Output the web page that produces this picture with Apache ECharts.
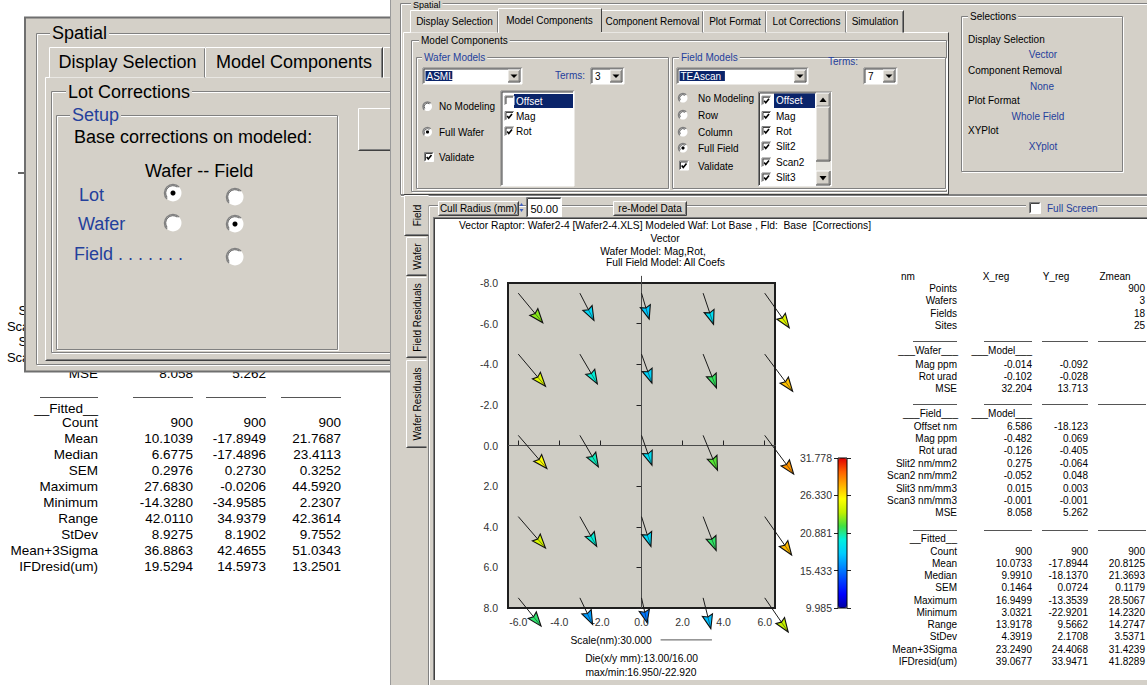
<!DOCTYPE html>
<html><head><meta charset="utf-8">
<script src="https://cdn.jsdelivr.net/npm/echarts@6/dist/echarts.min.js"></script>
<style>html,body{margin:0;padding:0;background:#fff}#c{width:1147px;height:685px}</style>
</head><body><div id="c"></div>
<script>
// ---------------- DATA ----------------
const siteX = [-6, -3, 0, 3, 6];
const siteY = [-7.5, -4.5, -0.5, 3.5, 7.5];
const vecXnm = [
  [14.3, 8.2, 4.5, 6.1, 14.3],
  [15.9, 10.2, 6.1, 7.8, 16.3],
  [16.7, 10.8, 6.1, 8.4, 16.9],
  [15.9, 9.8, 5.5, 7.6, 15.7],
  [13.3, 7.4, 3.3, 4.5, 13.7]
];
const vecYnm = [
  [-17.5, -16.1, -15.3, -18.4, -20.4],
  [-19.0, -17.6, -17.1, -20.0, -22.0],
  [-19.6, -18.6, -17.6, -20.6, -22.9],
  [-18.6, -17.6, -17.6, -20.0, -22.7],
  [-16.7, -15.7, -14.7, -18.2, -20.2]
];
const zmean = [
  [23.0, 18.5, 17.8, 18.8, 24.9],
  [24.8, 20.0, 18.3, 21.5, 27.4],
  [25.7, 20.3, 18.8, 22.2, 28.5],
  [24.5, 20.0, 18.5, 21.4, 27.6],
  [21.3, 16.5, 15.5, 17.5, 24.0]
];
const xTicks = [-6, -4, -2, 0, 2, 4, 6];
const colorTicks = [9.985, 15.433, 20.881, 26.330, 31.778];
const scaleNm = 30;
const NM_PER_MM = 12;

const rightHeader = ['nm', 'X_reg', 'Y_reg', 'Zmean'];
const countLabels = ['Points', 'Wafers', 'Fields', 'Sites'];
const countValues = ['900', '3', '18', '25'];
const waferLabels = ['Mag ppm', 'Rot urad', 'MSE'];
const waferX = ['-0.014', '-0.102', '32.204'];
const waferY = ['-0.092', '-0.028', '13.713'];
const fieldLabels = ['Offset nm', 'Mag ppm', 'Rot urad', 'Slit2 nm/mm2', 'Scan2 nm/mm2', 'Slit3 nm/mm3', 'Scan3 nm/mm3', 'MSE'];
const fieldX = ['6.586', '-0.482', '-0.126', '0.275', '-0.052', '0.015', '-0.001', '8.058'];
const fieldY = ['-18.123', '0.069', '-0.405', '-0.064', '0.048', '0.003', '-0.001', '5.262'];
const fittedLabels = ['Count', 'Mean', 'Median', 'SEM', 'Maximum', 'Minimum', 'Range', 'StDev', 'Mean+3Sigma', 'IFDresid(um)'];
const fittedX = ['900', '10.0733', '9.9910', '0.1464', '16.9499', '3.0321', '13.9178', '4.3919', '23.2490', '39.0677'];
const fittedY = ['900', '-17.8944', '-18.1370', '0.0724', '-13.3539', '-22.9201', '9.5662', '2.1708', '24.4068', '33.9471'];
const fittedZ = ['900', '20.8125', '21.3693', '0.1179', '28.5067', '14.2320', '14.2747', '3.5371', '31.4239', '41.8289'];
const leftFittedX = ['900', '10.1039', '6.6775', '0.2976', '27.6830', '-14.3280', '42.0110', '8.9275', '36.8863', '19.5294'];
const leftFittedY = ['900', '-17.8949', '-17.4896', '0.2730', '-0.0206', '-34.9585', '34.9379', '8.1902', '42.4655', '14.5973'];
const leftFittedZ = ['900', '21.7687', '23.4113', '0.3252', '44.5920', '2.2307', '42.3614', '9.7552', '51.0343', '13.2501'];

// ---------------- STYLE HELPERS ----------------
const FF = '"Liberation Sans", Arial, Helvetica, sans-serif';
const BG = '#d4d0c8', SH = '#808080', DK = '#404040', HL = '#ffffff', BLUE = '#24409c', NAVY = '#0a246a';
const COLORS = ['#0000a0','#0000ff','#0040ff','#0088ff','#00ccff','#00f0e0','#40e040','#c0f000','#ffff00','#ffb000','#ff6000','#e00000'];
const G = [];
function T(x, y, s, o) {
  o = o || {};
  const st = {text: s, font: (o.size || 10) + 'px ' + FF, fill: o.color || '#000',
    textAlign: o.align || 'left', textVerticalAlign: 'middle', align: o.align || 'left', verticalAlign: 'middle'};
  if (o.bg) { st.backgroundColor = o.bg; st.padding = [0, 2]; }
  G.push({type: 'text', x: x, y: y, rotation: o.rot || 0, z: o.z || -1, silent: true, style: st});
}
function L(x1, y1, x2, y2, c, w, z) {
  G.push({type: 'line', z: z || -1, silent: true, shape: {x1, y1, x2, y2}, style: {stroke: c, lineWidth: w || 1}});
}
function R(x, y, w, h, fill, stroke, lw, z) {
  G.push({type: 'rect', z: z || -1, silent: true, shape: {x, y, width: w, height: h},
    style: {fill: fill || 'none', stroke: stroke || 'none', lineWidth: lw || 1}});
}
function P(points, fill, z) { G.push({type: 'polygon', z: z || -1, silent: true, shape: {points}, style: {fill}}); }
function frame(x, y, w, h) { R(x + 1, y + 1, w, h, null, HL, 1); R(x, y, w, h, null, SH, 1); }
function raised(x, y, w, h) {
  R(x, y, w, h, BG);
  L(x, y, x + w, y, HL); L(x, y, x, y + h, HL);
  L(x + w, y, x + w, y + h, DK); L(x, y + h, x + w, y + h, DK);
  L(x + w - 1, y + 1, x + w - 1, y + h - 1, SH); L(x + 1, y + h - 1, x + w - 1, y + h - 1, SH);
}
function sunken(x, y, w, h, fill) {
  R(x, y, w, h, fill || '#fff');
  L(x, y, x + w, y, SH); L(x, y, x, y + h, SH);
  L(x + 1, y + 1, x + w - 1, y + 1, DK); L(x + 1, y + 1, x + 1, y + h - 1, DK);
  L(x + w, y, x + w, y + h, HL); L(x, y + h, x + w, y + h, HL);
}
function radio(cx, cy, r, sel) {
  G.push({type: 'circle', z: -1, silent: true, shape: {cx, cy, r}, style: {fill: '#fff'}});
  G.push({type: 'arc', z: -1, silent: true, shape: {cx, cy, r, startAngle: Math.PI * 0.75, endAngle: Math.PI * 1.75, clockwise: true}, style: {stroke: SH, lineWidth: 1.5, fill: 'none'}});
  G.push({type: 'arc', z: -1, silent: true, shape: {cx, cy, r: r - 1.2, startAngle: Math.PI * 0.8, endAngle: Math.PI * 1.7, clockwise: true}, style: {stroke: DK, lineWidth: 0.8, fill: 'none'}});
  if (sel) G.push({type: 'circle', z: -1, silent: true, shape: {cx, cy, r: Math.max(1.6, r * 0.3)}, style: {fill: '#000'}});
}
function check(x, y, s, on) {
  sunken(x, y, s, s, '#fff');
  if (on) G.push({type: 'polyline', z: -1, silent: true, shape: {points: [[x + 2.2, y + s * 0.5], [x + s * 0.42, y + s - 2.5], [x + s - 2, y + 2.5]]}, style: {stroke: '#000', lineWidth: 1.6, fill: 'none'}});
}
function combo(x, y, w, h, txt, hl) {
  sunken(x, y, w, h, '#fff');
  const bw = h - 4;
  raised(x + w - bw - 2, y + 2, bw, h - 4);
  const cx = x + w - 2 - bw / 2, cy = y + h / 2;
  P([[cx - 3.5, cy - 1.5], [cx + 3.5, cy - 1.5], [cx, cy + 2]], '#000');
  if (hl) {
    const tw = txt.length * 6.2 + 2;
    R(x + 2.5, y + 3, tw, h - 6, NAVY);
    T(x + 3.5, y + h / 2 + 0.5, txt, {color: '#fff'});
  } else T(x + 4, y + h / 2 + 0.5, txt);
}
function tab(x, y, w, h, label, size, ty) {
  R(x, y, w, h, BG);
  L(x, y + h, x, y, HL); L(x, y, x + w, y, HL);
  L(x + w, y, x + w, y + h, DK); L(x + w - 1, y + 1, x + w - 1, y + h, SH);
  if (label) T(x + w / 2, ty || (y + h / 2 + 1), label, {size: size, align: 'center'});
}
function vtab(x, y, w, h, label) {
  R(x, y, w, h, BG);
  L(x, y, x, y + h, HL); L(x, y, x + w, y, HL);
  L(x, y + h, x + w, y + h, DK); L(x + 1, y + h - 1, x + w, y + h - 1, SH);
  T(x + w / 2 + 1, y + h / 2, label, {rot: Math.PI / 2, align: 'center'});
}

// ---------------- LEFT WINDOW (hidden-behind text first) ----------------
const LS = 13.5;
T(98, 310, 'Slit2 nm/mm2', {size: 13, align: 'right'});
T(98, 326, 'Scan2 nm/mm2', {size: 13, align: 'right'});
T(98, 341, 'Slit3 nm/mm3', {size: 13, align: 'right'});
T(98, 357, 'Scan3 nm/mm3', {size: 13, align: 'right'});
T(98, 373.5, 'MSE', {size: LS, align: 'right'});
T(193, 373.5, '8.058', {size: LS, align: 'right'});
T(266, 373.5, '5.262', {size: LS, align: 'right'});
L(18, 173, 25, 173, '#333', 1.5);

R(25, 17.5, 375, 354, BG, '#6f6f6f', 2);
frame(36.5, 33.5, 400, 331);
T(50, 33, 'Spatial', {size: 18, bg: BG});
raised(45.5, 77.5, 400, 283);
tab(49.5, 47.5, 156, 30, 'Display Selection', 18, 62);
tab(205.5, 47.5, 177, 30, 'Model Components', 18, 62);
tab(383.5, 47.5, 60, 30, '', 18);
frame(51.5, 91.5, 400, 261);
T(66, 92, 'Lot Corrections', {size: 18, bg: BG});
frame(56.5, 115.5, 281, 234);
T(70, 115, 'Setup', {size: 18, color: BLUE, bg: BG});
raised(358.5, 108.5, 60, 42);
T(74, 137, 'Base corrections on modeled:', {size: 18});
T(145, 171, 'Wafer -- Field', {size: 18});
T(79, 195, 'Lot', {size: 18, color: BLUE});
T(78, 224, 'Wafer', {size: 18, color: BLUE});
T(74, 254, 'Field . . . . . . .', {size: 18, color: BLUE});
radio(173, 193, 8.5, true); radio(235, 197, 8.5, false);
radio(173, 223, 8.5, false); radio(235, 224, 8.5, true);
radio(235, 257, 8.5, false);

// left fitted table
[[40, 98], [133, 193], [206, 266], [281, 341]].forEach(s => L(s[0], 397.5, s[1], 397.5, '#555', 1));
T(98, 408.5, '__Fitted__', {size: LS, align: 'right'});
fittedLabels.forEach((lab, i) => {
  const y = 422.5 + i * 16.05;
  T(98, y, lab, {size: LS, align: 'right'});
  T(193, y, leftFittedX[i], {size: LS, align: 'right'});
  T(266, y, leftFittedY[i], {size: LS, align: 'right'});
  T(341, y, leftFittedZ[i], {size: LS, align: 'right'});
});

// ---------------- RIGHT WINDOW ----------------
R(390, 0, 757, 685, BG);
L(390.5, 0, 390.5, 685, '#9a9a9a');
frame(400.5, 3.5, 800, 191);
T(411, 5, 'Spatial', {size: 9, bg: BG});
// tab panel
L(403.5, 32.5, 948.5, 32.5, HL); L(403.5, 32.5, 403.5, 194.5, HL);
L(948.5, 32.5, 948.5, 194.5, DK); L(403.5, 194.5, 948.5, 194.5, DK);
tab(410.5, 10.5, 88, 22, 'Display Selection', 10, 21.5);
tab(601.5, 10.5, 102, 22, 'Component Removal', 10, 21.5);
tab(703.5, 10.5, 63, 22, 'Plot Format', 10, 21.5);
tab(766.5, 10.5, 80, 22, 'Lot Corrections', 10, 21.5);
tab(846.5, 10.5, 57, 22, 'Simulation', 10, 21.5);
R(498.5, 8.5, 103, 25, BG); L(498.5, 33, 498.5, 8.5, HL); L(498.5, 8.5, 601.5, 8.5, HL);
L(601.5, 8.5, 601.5, 32, DK); T(549.5, 20, 'Model Components', {align: 'center'});

frame(411.5, 40.5, 535, 151);
T(419, 40.5, 'Model Components', {bg: BG});
frame(416.5, 57.5, 252, 131);
T(422, 57.5, 'Wafer Models', {color: BLUE, bg: BG});
combo(423, 68, 99, 16, 'ASML', true);
T(555, 75, 'Terms:', {color: BLUE});
combo(591, 68, 33, 16, '3', false);
radio(427.5, 106.5, 4.5, false); T(439, 106.5, 'No Modeling');
radio(427.5, 132, 4.5, true); T(439, 132, 'Full Wafer');
check(424.5, 152.5, 9, true); T(439, 157, 'Validate');
sunken(501, 91, 73, 95, '#fff');
R(514, 94, 59, 14, NAVY);
check(505, 96, 9, false); T(516, 101, 'Offset', {color: '#fff'});
check(505, 111.5, 9, true); T(516, 116.5, 'Mag');
check(505, 127, 9, true); T(516, 131.5, 'Rot');

frame(672.5, 57.5, 273, 131);
T(679, 57.5, 'Field Models', {color: BLUE, bg: BG});
combo(677, 68, 131, 16, 'TEAscan', true);
T(828, 61.5, 'Terms:', {color: BLUE});
combo(864, 68, 33, 16, '7', false);
radio(683, 98, 4.5, false); T(698, 98, 'No Modeling');
radio(683, 115, 4.5, false); T(698, 115, 'Row');
radio(683, 132, 4.5, false); T(698, 132, 'Column');
radio(683, 148, 4.5, true); T(698, 148, 'Full Field');
check(679.5, 161, 9, true); T(698, 166, 'Validate');
sunken(758.5, 92, 73, 94, '#fff');
R(816, 93, 15, 92, '#e6e4de');
raised(816, 93, 14, 14); P([[819.5, 102], [826.5, 102], [823, 97.5]], '#000');
raised(816, 107, 14, 54);
raised(816, 171, 14, 14); P([[819.5, 176], [826.5, 176], [823, 180.5]], '#000');
R(774, 93.6, 41, 14.3, NAVY);
const fieldItems = ['Offset', 'Mag', 'Rot', 'Slit2', 'Scan2', 'Slit3'];
const fieldItemY = [100.7, 116, 131, 146.5, 162.5, 177.5];
fieldItems.forEach((s, i) => { check(762, fieldItemY[i] - 4.5, 9, true); T(776, fieldItemY[i], s, {color: i === 0 ? '#fff' : '#000'}); });

frame(961.5, 16.5, 161, 155);
T(968, 16.5, 'Selections', {bg: BG});
T(968, 39.5, 'Display Selection');
T(1043, 54.5, 'Vector', {align: 'center', color: BLUE});
T(968, 70, 'Component Removal');
T(1042, 86, 'None', {align: 'center', color: BLUE});
T(968, 100.5, 'Plot Format');
T(1038, 116.5, 'Whole Field', {align: 'center', color: BLUE});
T(968, 130.5, 'XYPlot');
T(1043, 146.5, 'XYplot', {align: 'center', color: BLUE});

L(401, 195.5, 1147, 195.5, SH); L(401, 196.5, 1147, 196.5, HL);

// plot group
L(428.5, 205.5, 1147, 205.5, SH); L(429.5, 206.5, 1147, 206.5, HL);
L(428.5, 205.5, 428.5, 685, SH); L(429.5, 206.5, 429.5, 685, HL);
raised(438.5, 201.5, 80, 14); T(478.5, 208.5, 'Cull Radius (mm)', {align: 'center'});
P([[519.5, 206], [523.5, 206], [521.5, 203]], '#4060c0'); P([[519.5, 209], [523.5, 209], [521.5, 212]], '#4060c0');
sunken(526.5, 197.5, 35, 20, '#fff'); T(530.5, 209, '50.00', {size: 11});
raised(613.5, 201.5, 73, 14); T(650, 208.5, 're-Model Data', {align: 'center'});
R(1026, 201, 72, 14, BG);
check(1029.5, 202.5, 11, false); T(1047, 208.5, 'Full Screen', {color: BLUE});
vtab(406.5, 237.5, 20, 38, 'Wafer');
vtab(406.5, 277.5, 20, 80, 'Field Residuals');
vtab(406.5, 360.5, 20, 87, 'Wafer Residuals');
vtab(404.5, 195.5, 24, 40, 'Field');

R(434, 218, 713, 462, '#fff');
L(433, 217.5, 1147, 217.5, SH); L(434, 218.5, 1147, 218.5, DK);
L(433.5, 217.5, 433.5, 680, SH); L(434.5, 218.5, 434.5, 680, DK);

// plot texts
const PS = 10.3;
T(459, 225.5, 'Vector Raptor: Wafer2-4 [Wafer2-4.XLS] Modeled Waf: Lot Base , Fld:  Base  [Corrections]', {size: PS});
T(665, 238.5, 'Vector', {size: PS, align: 'center'});
T(653, 251, 'Wafer Model: Mag,Rot,', {size: PS, align: 'center'});
T(665.5, 262.5, 'Full Field Model: All Coefs', {size: PS, align: 'center'});
T(570.5, 640, 'Scale(nm):' + scaleNm.toFixed(3), {size: PS});
T(641.5, 658.5, 'Die(x/y mm):13.00/16.00', {size: PS, align: 'center'});
T(641, 672, 'max/min:16.950/-22.920', {size: PS, align: 'center'});
R(838, 458, 9, 150, null, '#000', 1, 10);

// right stats table
const RS = 10;
T(908, 276, rightHeader[0], {size: RS, align: 'center'});
T(996, 276, rightHeader[1], {size: RS, align: 'center'});
T(1056, 276, rightHeader[2], {size: RS, align: 'center'});
T(1115, 276, rightHeader[3], {size: RS, align: 'center'});
countLabels.forEach((lab, i) => { const y = 288.5 + i * 12.3; T(957, y, lab, {size: RS, align: 'right'}); T(1145, y, countValues[i], {size: RS, align: 'right'}); });
function seps(y) { [[913, 957], [984, 1032], [1042, 1088], [1098, 1146]].forEach(s => L(s[0], y, s[1], y, '#555', 1)); }
seps(341.5);
T(958, 350.5, '___Wafer___', {size: RS, align: 'right'}); T(1032, 350.5, '___Model___', {size: RS, align: 'right'});
waferLabels.forEach((lab, i) => { const y = 364 + i * 12.4; T(957, y, lab, {size: RS, align: 'right'}); T(1032, y, waferX[i], {size: RS, align: 'right'}); T(1088, y, waferY[i], {size: RS, align: 'right'}); });
seps(404.5);
T(958, 413.5, '___Field___', {size: RS, align: 'right'}); T(1032, 413.5, '___Model___', {size: RS, align: 'right'});
fieldLabels.forEach((lab, i) => { const y = 426 + i * 12.4; T(957, y, lab, {size: RS, align: 'right'}); T(1032, y, fieldX[i], {size: RS, align: 'right'}); T(1088, y, fieldY[i], {size: RS, align: 'right'}); });
seps(530.5);
T(957, 538, '__Fitted__', {size: RS, align: 'right'});
fittedLabels.forEach((lab, i) => { const y = 551 + i * 12.25; T(957, y, lab, {size: RS, align: 'right'}); T(1032, y, fittedX[i], {size: RS, align: 'right'}); T(1088, y, fittedY[i], {size: RS, align: 'right'}); T(1145, y, fittedZ[i], {size: RS, align: 'right'}); });

// ---------------- CHART ----------------
const arrowData = [];
siteY.forEach((y, r) => siteX.forEach((x, c) => arrowData.push([x, y, vecXnm[r][c], vecYnm[r][c], zmean[r][c]])));

function renderArrow(params, api) {
  const x = api.value(0), y = api.value(1), dx = api.value(2), dy = api.value(3);
  const p0 = api.coord([x, y]);
  const p1 = api.coord([x + dx / NM_PER_MM, y - dy / NM_PER_MM]);
  const vx = p1[0] - p0[0], vy = p1[1] - p0[1], len = Math.hypot(vx, vy) || 1;
  const ux = vx / len, uy = vy / len, nx = -uy, ny = ux;
  const H = Math.min(14, len * 0.5), W = 5.2;
  const bx = p1[0] - ux * H, by = p1[1] - uy * H;
  const c = api.visual('color');
  return {type: 'group', children: [
    {type: 'line', shape: {x1: p0[0], y1: p0[1], x2: bx + ux * 4, y2: by + uy * 4}, style: {stroke: '#1a1a1a', lineWidth: 1}},
    {type: 'polygon', shape: {points: [[p1[0], p1[1]], [bx + nx * W, by + ny * W], [bx + ux * 2, by + uy * 2], [bx - nx * W, by - ny * W]]},
      style: {fill: c, stroke: '#111', lineWidth: 1.1}},
    {type: 'line', shape: {x1: bx + ux * 2, y1: by + uy * 2, x2: p1[0], y2: p1[1]}, style: {stroke: '#111', lineWidth: 0.8, opacity: 0.6}}
  ]};
}

const axisText = {fontSize: 10.5, color: '#333', fontFamily: FF};
const option = {
  backgroundColor: '#fff', animation: false, textStyle: {fontFamily: FF},
  graphic: {elements: G},
  grid: [
    {left: 508, top: 283, width: 267, height: 325, show: true, backgroundColor: '#cfcdc5', borderColor: '#1e1e1e', borderWidth: 2},
    {left: 838, top: 458, width: 9, height: 150, show: false}
  ],
  xAxis: [
    {type: 'value', gridIndex: 0, min: -6.5, max: 6.5, splitLine: {show: false}, axisLine: {show: false},
      axisTick: {show: true, inside: true, length: 5, customValues: xTicks, lineStyle: {color: '#222'}},
      axisLabel: Object.assign({customValues: xTicks, formatter: v => v.toFixed(1), margin: 8}, axisText)},
    {type: 'value', gridIndex: 1, show: false, min: 0, max: 1}
  ],
  yAxis: [
    {type: 'value', gridIndex: 0, min: -8, max: 8, interval: 2, inverse: true, splitLine: {show: false}, axisLine: {show: false},
      axisTick: {show: true, length: 5, lineStyle: {color: '#222'}},
      axisLabel: Object.assign({formatter: v => v.toFixed(1), margin: 10}, axisText)},
    {type: 'value', gridIndex: 1, position: 'left', min: colorTicks[0], max: colorTicks[colorTicks.length - 1], splitLine: {show: false}, axisLine: {show: false},
      axisTick: {show: true, length: 4, customValues: colorTicks, lineStyle: {color: '#222'}},
      axisLabel: Object.assign({customValues: colorTicks, formatter: v => v.toFixed(3), margin: 6}, axisText)},
    {type: 'value', gridIndex: 1, position: 'right', min: colorTicks[0], max: colorTicks[colorTicks.length - 1], splitLine: {show: false}, axisLine: {show: false},
      axisTick: {show: true, length: 4, customValues: colorTicks, lineStyle: {color: '#222'}},
      axisLabel: {show: false}}
  ],
  visualMap: {type: 'continuous', min: colorTicks[0], max: colorTicks[colorTicks.length - 1], dimension: 4, seriesIndex: 0,
    left: 838, top: 458, itemWidth: 9, itemHeight: 150, calculable: false, padding: 0, hoverLink: false,
    text: null, showLabel: false, inRange: {color: COLORS}},
  series: [
    {type: 'custom', xAxisIndex: 0, yAxisIndex: 0, clip: false, silent: true, z: 5, renderItem: renderArrow, data: arrowData, encode: {x: 0, y: 1}},
    {type: 'line', xAxisIndex: 0, yAxisIndex: 0, clip: false, silent: true, symbol: 'none', z: 3, lineStyle: {color: '#4a4a4a', width: 1}, data: [[0, -8.35], [0, 8]]},
    {type: 'line', xAxisIndex: 0, yAxisIndex: 0, clip: false, silent: true, symbol: 'none', z: 3, lineStyle: {color: '#4a4a4a', width: 1}, data: [[-6.5, 0], [6.65, 0]]},
    {type: 'line', xAxisIndex: 0, yAxisIndex: 0, clip: false, silent: true, symbol: 'none', z: 3, lineStyle: {color: '#555', width: 1}, data: [[0.93, 9.57], [0.93 + scaleNm / NM_PER_MM, 9.57]]}
  ]
};
const chart = echarts.init(document.getElementById('c'), null, {renderer: 'svg'});
chart.setOption(option);
</script></body></html>
